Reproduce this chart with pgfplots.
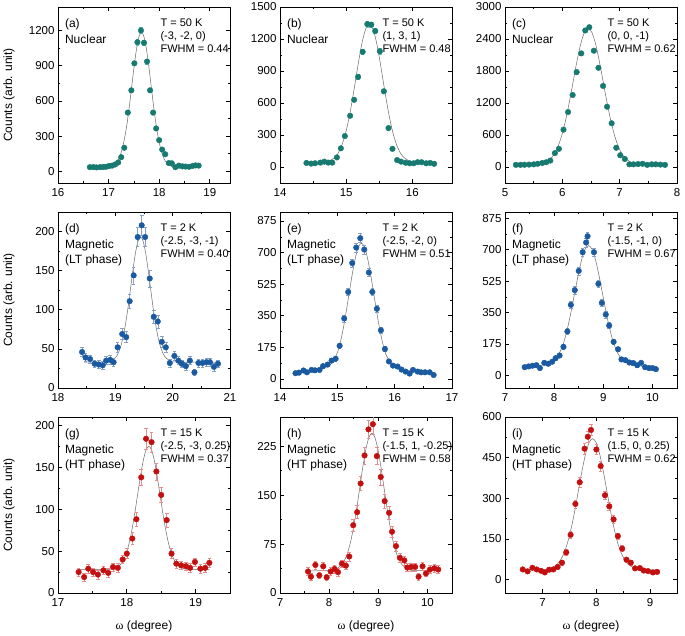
\documentclass[border=0pt]{standalone}
\usepackage{fontspec}
\setmainfont{Liberation Sans}
\newfontfamily\grfont{Liberation Serif}
\usepackage{pgfplots}
\pgfplotsset{compat=1.18}

\definecolor{nuc}{RGB}{22,122,112}
\definecolor{nucerr}{RGB}{110,190,190}
\definecolor{lt}{RGB}{25,90,160}
\definecolor{lterr}{RGB}{135,160,195}
\definecolor{ht}{RGB}{195,15,15}
\definecolor{hterr}{RGB}{235,140,140}
\definecolor{fitc}{RGB}{105,105,105}

\newcommand\tickfont{\fontsize{11.5}{13}\selectfont}
\newcommand\leftfont{\fontsize{12}{15.5}\selectfont}
\newcommand\rightfont{\fontsize{11}{12.7}\selectfont}
\newcommand\labfont{\fontsize{12}{14}\selectfont}

\pgfplotsset{
  panel/.style={
    scale only axis, width=172pt, height=176pt, anchor=north west,
    axis line style={line width=0.8pt},
    tick align=inside, minor tick num=1,
    major tick length=4pt, minor tick length=2.2pt,
    every tick/.append style={line width=0.6pt, black},
    tick label style={font=\tickfont},
    xticklabel style={yshift=-2pt},
    /pgf/number format/assume math mode=true,
    /pgf/number format/1000 sep={},
    scaled ticks=false,
    label style={font=\labfont},
    ylabel style={at={(axis description cs:-0.285,0.5)}, anchor=center},
    xlabel style={at={(axis description cs:0.5,-0.19)}, anchor=center},
  },
  dat/.style={only marks, mark=*, mark size=2.8pt, color=#1,
    mark options={solid, fill=#1, draw=#1},
    error bars/.cd, y dir=both, y explicit,
    error bar style={color=#1err, line width=0.5pt},
    error mark options={rotate=90, mark size=1.8pt, color=#1err, line width=0.5pt}},
  fit/.style={fitc, line width=0.5pt, smooth, no marks},
}
\newcommand\leftnote[1]{\node[anchor=north west, inner sep=0pt, align=left, font=\leftfont] at (rel axis cs:0.04,0.934) {#1};}
\newcommand\rightnote[1]{\node[anchor=north west, inner sep=0pt, align=left, font=\rightfont] at (rel axis cs:0.595,0.932) {#1};}

\begin{document}
\begin{tikzpicture}
\useasboundingbox (0pt,0pt) rectangle (685pt,-636pt);

% ---------- row 1: nuclear
\begin{axis}[panel, at={(58pt,-7pt)}, xmin=16, xmax=19.4, ymin=-100, ymax=1400,
  xtick={16,17,18,19}, ytick={0,300,600,900,1200}, ylabel={Counts (arb. unit)}]
\addplot[fit] coordinates {(16.63,35) (16.985,37.5) (17.08,48) (17.175,85) (17.2225,127) (17.27,191) (17.3175,284) (17.365,408) (17.4125,561) (17.46,732) (17.5075,903) (17.555,1050) (17.6025,1149) (17.65,1185) (17.6975,1149) (17.745,1050) (17.7925,903) (17.84,732) (17.8875,561) (17.935,408) (17.9825,284) (18.03,191) (18.0775,127) (18.125,85) (18.22,48) (18.315,37.5) (18.78,35)};
\addplot[dat=nuc] table[x index=0, y index=1, y error index=2] {
16.63 35 6
16.70 36 6
16.76 33 6
16.83 35 6
16.89 36 6
16.95 38 6
17.01 45 7
17.07 48 7
17.13 58 8
17.19 75 8
17.25 120 10
17.31 200 12
17.38 500 16
17.45 690 18
17.51 920 20
17.57 1100 22
17.64 1200 24
17.70 1095 22
17.76 935 20
17.82 690 18
17.88 500 16
17.94 365 14
18.00 265 12
18.06 185 10
18.12 145 10
18.19 70 8
18.25 68 8
18.32 35 6
18.39 48 6
18.46 42 6
18.52 40 6
18.59 38 6
18.66 45 6
18.72 50 6
18.78 48 6
};
\leftnote{(a)\\Nuclear}
\rightnote{T = 50 K\\(-3, -2, 0)\\FWHM = 0.44}
\end{axis}

\begin{axis}[panel, at={(280pt,-7pt)}, xmin=14, xmax=16.6, ymin=-150, ymax=1500,
  xtick={14,15,16}, ytick={0,300,600,900,1200,1500}]
\addplot[fit] coordinates {(14.40,40) (14.636,43) (14.738,54) (14.84,97) (14.891,143) (14.942,216) (14.993,321) (15.044,462) (15.095,635) (15.146,828) (15.197,1021) (15.248,1187) (15.299,1300) (15.35,1340) (15.401,1300) (15.452,1187) (15.503,1021) (15.554,828) (15.605,635) (15.656,462) (15.707,321) (15.758,216) (15.809,143) (15.86,97) (15.962,54) (16.064,43) (16.33,40)};
\addplot[dat=nuc] table[x index=0, y index=1, y error index=2] {
14.40 38 6
14.47 32 6
14.53 35 6
14.61 41 6
14.67 50 7
14.73 41 6
14.79 41 6
14.86 90 9
14.92 175 11
14.98 290 13
15.06 480 16
15.12 630 18
15.18 845 20
15.25 1080 24
15.32 1340 26
15.38 1335 26
15.44 1275 25
15.51 1085 24
15.57 710 18
15.64 365 14
15.70 170 11
15.77 65 8
15.83 50 7
15.90 40 6
15.96 35 6
16.02 35 6
16.08 45 6
16.14 45 6
16.21 35 6
16.27 38 6
16.33 30 6
};
\leftnote{(b)\\Nuclear}
\rightnote{T = 50 K\\(1, 3, 1)\\FWHM = 0.48}
\end{axis}

\begin{axis}[panel, at={(505pt,-7pt)}, xmin=5, xmax=8, ymin=-300, ymax=3000,
  xtick={5,6,7,8}, ytick={0,600,1200,1800,2400,3000}]
\addplot[fit] coordinates {(5.19,40) (5.53,46) (5.661,68) (5.793,152) (5.858,244) (5.924,386) (5.990,594) (6.056,871) (6.121,1212) (6.187,1593) (6.253,1972) (6.319,2299) (6.384,2521) (6.45,2600) (6.516,2521) (6.582,2299) (6.647,1972) (6.713,1593) (6.779,1212) (6.845,871) (6.910,594) (6.976,386) (7.042,244) (7.108,152) (7.239,68) (7.371,46) (7.79,40)};
\addplot[dat=nuc] table[x index=0, y index=1, y error index=2] {
5.19 40 8
5.27 40 8
5.34 42 8
5.42 45 8
5.50 50 8
5.57 60 9
5.65 75 9
5.72 90 10
5.79 120 11
5.87 260 14
5.94 340 15
6.02 700 20
6.10 1030 24
6.18 1350 28
6.25 1780 32
6.33 2130 35
6.40 2560 38
6.47 2620 38
6.55 2180 35
6.63 1860 33
6.71 1520 30
6.78 1130 26
6.86 820 22
6.94 360 15
7.01 220 13
7.09 150 12
7.17 50 8
7.24 50 8
7.32 55 8
7.40 60 8
7.48 40 8
7.56 50 8
7.63 50 8
7.71 45 8
7.79 40 8
};
\leftnote{(c)\\Nuclear}
\rightnote{T = 50 K\\(0, 0, -1)\\FWHM = 0.62}
\end{axis}

% ---------- row 2: magnetic, LT phase
\begin{axis}[panel, at={(58pt,-212pt)}, xmin=18, xmax=21, ymin=0, ymax=225,
  xtick={18,19,20,21}, ytick={0,50,100,150,200}, ylabel={Counts (arb. unit)}]
\addplot[fit] coordinates {(18.45,33) (18.845,33.4) (18.93,34.8) (19.015,40) (19.0575,45.7) (19.10,54.6) (19.1425,67.6) (19.185,85) (19.2275,106.2) (19.27,130) (19.3125,153.8) (19.355,174.2) (19.3975,188.1) (19.44,193) (19.4825,188.1) (19.525,174.2) (19.5675,153.8) (19.61,130) (19.6525,106.2) (19.695,85) (19.7375,67.6) (19.78,54.6) (19.8225,45.7) (19.865,40) (19.95,34.8) (20.035,33.4) (20.79,33)};
\addplot[dat=lt] table[x index=0, y index=1, y error index=2] {
18.42 46 6
18.48 39 5
18.56 37 5
18.64 31 5
18.71 30 5
18.78 29 5
18.84 35 5
18.91 36 6
18.97 33 5
19.04 52 6
19.12 69 7
19.19 65 7
19.25 111 9
19.32 144 11
19.39 193 12
19.46 208 13
19.52 193 12
19.60 140 11
19.67 91 8
19.74 85 8
19.81 59 7
19.88 52 6
19.95 32 5
20.03 41 6
20.10 35 5
20.16 31 5
20.23 28 5
20.30 35 5
20.38 20 4
20.45 32 5
20.52 32 5
20.59 33 5
20.65 33 5
20.72 27 5
20.79 31 5
};
\leftnote{(d)\\Magnetic\\(LT phase)}
\rightnote{T = 2 K\\(-2.5, -3, -1)\\FWHM = 0.40}
\end{axis}

\begin{axis}[panel, at={(280pt,-212pt)}, xmin=14, xmax=17, ymin=-50, ymax=925,
  xtick={14,15,16,17}, ytick={0,175,350,525,700,875}]
\addplot[fit] coordinates {(14.27,35) (14.662,50) (14.770,60) (14.879,80) (14.933,100) (14.987,135) (15.041,188) (15.095,266) (15.149,362) (15.203,469) (15.258,576) (15.312,667) (15.366,730) (15.42,752) (15.474,730) (15.528,667) (15.582,576) (15.637,469) (15.691,362) (15.745,266) (15.799,188) (15.853,132) (15.907,100) (15.961,78) (16.07,58) (16.178,48) (16.68,33)};
\addplot[dat=lt] table[x index=0, y index=1, y error index=2] {
14.27 32 8
14.33 35 8
14.41 47 9
14.47 37 8
14.55 50 9
14.61 48 9
14.69 50 9
14.75 71 10
14.83 80 10
14.90 102 11
14.97 112 12
15.04 184 14
15.12 335 18
15.19 482 20
15.26 642 22
15.33 728 24
15.40 780 25
15.47 717 24
15.55 590 22
15.61 482 20
15.69 389 18
15.76 270 16
15.83 166 14
15.90 97 11
15.97 74 10
16.05 69 10
16.12 52 9
16.19 41 8
16.26 30 8
16.32 50 9
16.40 41 8
16.46 37 8
16.53 37 8
16.61 37 8
16.68 22 7
};
\leftnote{(e)\\Magnetic\\(LT phase)}
\rightnote{T = 2 K\\(-2.5, -2, 0)\\FWHM = 0.51}
\end{axis}

\begin{axis}[panel, at={(505pt,-212pt)}, xmin=7, xmax=10.5, ymin=-70, ymax=910,
  xtick={7,8,9,10}, ytick={0,175,350,525,700,875}]
\addplot[fit] coordinates {(7.40,45) (7.704,55) (7.8465,65) (7.989,82) (8.060,104) (8.131,138) (8.202,190) (8.273,264) (8.344,354) (8.4155,455) (8.487,556) (8.558,643) (8.629,702) (8.70,723) (8.771,702) (8.842,643) (8.913,556) (8.9845,455) (9.056,354) (9.127,264) (9.198,190) (9.269,138) (9.340,104) (9.411,82) (9.5535,65) (9.696,55) (10.07,40)};
\addplot[dat=lt] table[x index=0, y index=1, y error index=2] {
7.40 46 9
7.48 50 9
7.56 54 9
7.64 57 9
7.71 41 8
7.80 70 10
7.88 65 10
7.96 76 10
8.03 96 11
8.11 111 12
8.19 159 14
8.27 245 16
8.34 393 19
8.42 475 21
8.50 582 22
8.58 686 24
8.65 740 25
8.68 775 25
8.81 686 24
8.90 510 21
8.97 404 19
9.05 339 18
9.12 278 16
9.21 187 14
9.30 146 13
9.37 89 11
9.45 85 11
9.53 72 10
9.61 69 10
9.69 57 9
9.77 70 10
9.85 46 9
9.93 41 8
10.00 41 8
10.07 35 8
};
\leftnote{(f)\\Magnetic\\(LT phase)}
\rightnote{T = 2 K\\(-1.5, -1, 0)\\FWHM = 0.67}
\end{axis}

% ---------- row 3: magnetic, HT phase
\begin{axis}[panel, at={(58pt,-417pt)}, xmin=17, xmax=19.5, ymin=0, ymax=210,
  xtick={17,18,19}, ytick={0,50,100,150,200}, ylabel={Counts (arb. unit)},
  xlabel={{\grfont ω} (degree)}]
\addplot[fit] coordinates {(17.30,28) (17.749,28.3) (17.831,29.6) (17.9125,34.5) (17.953,39.7) (17.994,47.9) (18.035,59.8) (18.0755,75.7) (18.116,95.3) (18.157,117.2) (18.198,139) (18.2385,157.7) (18.279,170.5) (18.32,175) (18.361,170.5) (18.4015,157.7) (18.442,139) (18.483,117.2) (18.524,95.3) (18.5645,75.7) (18.605,59.8) (18.646,47.9) (18.687,39.7) (18.7275,34.5) (18.809,29.6) (18.8905,28.3) (19.20,28)};
\addplot[dat=ht] table[x index=0, y index=1, y error index=2] {
17.30 25 5
17.38 19 5
17.44 29 5
17.51 25 5
17.58 22 5
17.66 27 5
17.73 24 5
17.80 31 5
17.87 30 5
17.94 40 5
18.00 47 6
18.08 65 7
18.14 88 8
18.21 138 10
18.28 184 12
18.36 180 12
18.43 145 10
18.50 117 9
18.58 87 8
18.65 47 6
18.72 35 5
18.79 33 5
18.86 32 5
18.92 30 5
18.99 37 5
19.07 29 5
19.14 30 5
19.20 36 5
};
\leftnote{(g)\\Magnetic\\(HT phase)}
\rightnote{T = 15 K\\(-2.5, -3, 0.25)\\FWHM = 0.37}
\end{axis}

\begin{axis}[panel, at={(280pt,-417pt)}, xmin=7, xmax=10.5, ymin=0, ymax=270,
  xtick={7,8,9,10}, ytick={0,75,150,225}, xlabel={{\grfont ω} (degree)}]
\addplot[fit] coordinates {(7.57,34) (8.009,34.5) (8.132,36.3) (8.255,43.3) (8.3165,50.8) (8.378,62.5) (8.4395,79.6) (8.501,102.5) (8.5625,130.6) (8.624,162) (8.6855,193.3) (8.747,220.2) (8.8085,238.5) (8.87,245) (8.9315,238.5) (8.993,220.2) (9.0545,193.3) (9.116,162) (9.1775,130.6) (9.239,102.5) (9.3005,79.6) (9.362,62.5) (9.4235,50.8) (9.485,43.3) (9.608,36.3) (9.731,34.5) (10.22,34)};
\addplot[dat=ht] table[x index=0, y index=1, y error index=2] {
7.57 33 6
7.63 25 5
7.72 43 6
7.80 27 5
7.88 41 6
7.95 24 5
8.03 33 6
8.11 37 6
8.18 32 6
8.26 45 6
8.34 42 6
8.41 56 7
8.49 104 9
8.57 124 10
8.64 168 11
8.72 211 13
8.80 251 14
8.89 259 15
8.97 210 13
9.05 178 12
9.13 141 11
9.22 123 10
9.28 94 9
9.36 72 8
9.44 54 7
9.53 50 7
9.59 39 6
9.67 40 6
9.75 40 6
9.82 25 5
9.90 41 6
9.97 30 5
10.05 36 6
10.14 38 6
10.22 36 6
};
\leftnote{(h)\\Magnetic\\(HT phase)}
\rightnote{T = 15 K\\(-1.5, 1, -0.25)\\FWHM = 0.58}
\end{axis}

\begin{axis}[panel, at={(505pt,-417pt)}, xmin=6.3, xmax=9.5, ymin=-50, ymax=600,
  xtick={7,8,9}, ytick={0,150,300,450,600}, xlabel={{\grfont ω} (degree)}]
\addplot[fit] coordinates {(6.63,35) (7.0095,36.1) (7.141,40.4) (7.2725,56.3) (7.338,73.6) (7.404,100.6) (7.4698,139.9) (7.5355,192.5) (7.6013,257) (7.667,329.2) (7.7328,401.1) (7.7985,463) (7.8643,505.1) (7.93,520) (7.9958,505.1) (8.0615,463) (8.1273,401.1) (8.193,329.2) (8.2588,257) (8.3245,192.5) (8.3903,139.9) (8.456,100.6) (8.5218,73.6) (8.5875,56.3) (8.719,40.4) (8.8505,36.1) (9.13,35)};
\addplot[dat=ht] table[x index=0, y index=1, y error index=2] {
6.63 37 6
6.72 30 6
6.81 43 7
6.89 37 6
6.97 32 6
7.04 26 6
7.12 36 6
7.20 37 6
7.28 46 7
7.36 62 8
7.44 100 10
7.52 165 12
7.61 279 15
7.69 359 17
7.78 483 19
7.84 527 20
7.90 552 21
8.00 480 19
8.08 419 18
8.16 311 16
8.24 270 15
8.32 222 14
8.40 160 12
8.48 114 11
8.56 73 9
8.64 62 8
8.72 41 7
8.81 42 7
8.88 33 6
8.96 31 6
9.05 26 6
9.13 28 6
};
\leftnote{(i)\\Magnetic\\(HT phase)}
\rightnote{T = 15 K\\(1.5, 0, 0.25)\\FWHM = 0.62}
\end{axis}
\end{tikzpicture}
\end{document}
